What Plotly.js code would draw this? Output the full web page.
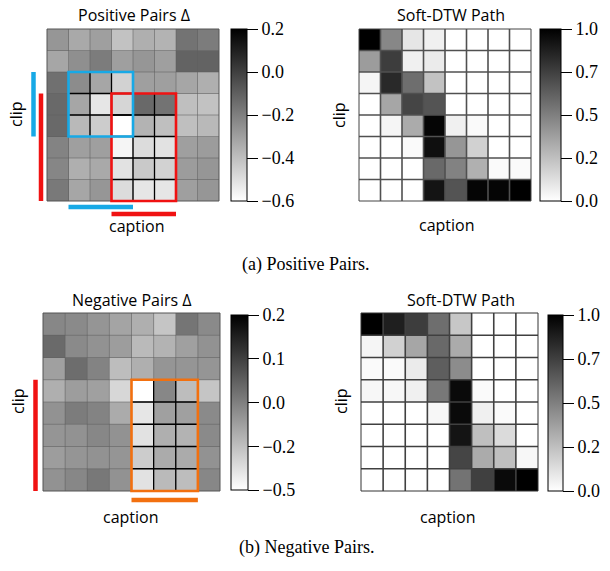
<!DOCTYPE html>
<html><head><meta charset="utf-8">
<script src="https://cdn.plot.ly/plotly-3.0.1.min.js"></script>
<style>html,body{margin:0;padding:0;background:#fff}#chart{width:610px;height:571px}</style>
</head><body><div id="chart"></div>
<script>
// ---------- data ----------
const captionIdx = [0,1,2,3,4,5,6,7];
const clipIdx = [0,1,2,3,4,5,6,7];

const posDelta = [
  [-0.27,-0.33,-0.30,-0.41,-0.35,-0.36,-0.16,-0.19],
  [-0.32,-0.25,-0.19,-0.30,-0.27,-0.30,-0.11,-0.11],
  [-0.15,-0.24,-0.32,-0.46,-0.30,-0.30,-0.32,-0.35],
  [-0.13,-0.32,-0.52,-0.47,-0.13,-0.16,-0.40,-0.41],
  [-0.13,-0.38,-0.44,-0.60,-0.36,-0.40,-0.40,-0.38],
  [-0.21,-0.30,-0.30,-0.57,-0.49,-0.51,-0.30,-0.29],
  [-0.22,-0.35,-0.33,-0.51,-0.43,-0.46,-0.29,-0.27],
  [-0.18,-0.32,-0.27,-0.49,-0.52,-0.52,-0.30,-0.27]
];
const posPath = [
  [1.00,0.47,0.10,0.06,0.00,0.00,0.00,0.00],
  [0.39,0.76,0.06,0.08,0.00,0.00,0.00,0.00],
  [0.04,0.84,0.57,0.24,0.00,0.00,0.00,0.00],
  [0.00,0.35,0.73,0.67,0.00,0.00,0.00,0.00],
  [0.00,0.04,0.33,0.98,0.06,0.02,0.00,0.00],
  [0.00,0.00,0.02,0.94,0.41,0.18,0.00,0.00],
  [0.00,0.00,0.00,0.59,0.49,0.31,0.02,0.02],
  [0.00,0.00,0.00,0.92,0.67,0.98,0.98,1.00]
];
const negDelta = [
  [-0.17,-0.18,-0.21,-0.25,-0.28,-0.34,-0.12,-0.18],
  [-0.09,-0.18,-0.20,-0.23,-0.31,-0.29,-0.24,-0.20],
  [-0.24,-0.10,-0.16,-0.32,-0.28,-0.21,-0.21,-0.21],
  [-0.28,-0.23,-0.24,-0.39,-0.50,-0.17,-0.32,-0.34],
  [-0.20,-0.14,-0.16,-0.27,-0.43,-0.24,-0.24,-0.18],
  [-0.21,-0.20,-0.17,-0.20,-0.42,-0.28,-0.29,-0.18],
  [-0.23,-0.21,-0.20,-0.21,-0.36,-0.27,-0.27,-0.20],
  [-0.20,-0.17,-0.13,-0.20,-0.42,-0.31,-0.32,-0.17]
];
const negPath = [
  [1.00,0.88,0.76,0.57,0.22,0.00,0.00,0.00],
  [0.04,0.18,0.35,0.59,0.33,0.00,0.00,0.00],
  [0.02,0.02,0.08,0.63,0.45,0.00,0.00,0.00],
  [0.03,0.03,0.06,0.53,0.96,0.02,0.00,0.00],
  [0.00,0.00,0.00,0.03,0.96,0.06,0.02,0.00],
  [0.00,0.00,0.00,0.00,0.92,0.25,0.14,0.00],
  [0.00,0.00,0.00,0.00,0.73,0.33,0.25,0.03],
  [0.00,0.00,0.00,0.00,0.55,0.75,0.96,1.00]
];

const posDeltaTickVals = [-0.6,-0.4,-0.2,0.0,0.2];
const posDeltaTickText = ['\u22120.6','\u22120.4','\u22120.2','0.0','0.2'];
const pathTickVals = [0,0.25,0.5,0.75,1.0];
const pathTickText = ['0.0','0.2','0.5','0.7','1.0'];
const negDeltaTickVals = [-0.5,-0.325,-0.15,0.025,0.2];
const negDeltaTickText = ['\u22120.5','\u22120.2','0.0','0.1','0.2'];

// highlighted regions (cell index ranges)
const posBlueBox = {c0:1,c1:3,r0:2,r1:4};
const posRedBox  = {c0:3,c1:5,r0:3,r1:7};
const negOrangeBox = {c0:4,c1:6,r0:3,r1:7};

// ---------- layout helpers ----------
const W=610,H=571,N=8;
const BLUE='#17A9E6', RED='#F01212', ORANGE='#F2700F';
const px = v => v/W, py = v => 1 - v/H;
const P = {
  tl:{x:[47,219], y:[29,201], ax:''},
  tr:{x:[359,531], y:[29,201], ax:'2'},
  bl:{x:[43,220], y:[313,491], ax:'3'},
  br:{x:[361,538], y:[313,491], ax:'4'}
};
const gray = [[0,'#ffffff'],[1,'#000000']];
const tickFont = {family:'Liberation Serif', size:18, color:'#000'};
function cbar(left, width, top, len, vals, text){
  return {x:px(left), xanchor:'left', xpad:0, ypad:0, y:py(top), yanchor:'top',
    len:len, lenmode:'pixels', thickness:width, thicknessmode:'pixels',
    outlinewidth:1, outlinecolor:'#000', ticks:'outside', ticklen:11, tickwidth:1,
    tickcolor:'#000', tickvals:vals, ticktext:text, tickfont:tickFont};
}
function hm(z, p, zmin, zmax, cb){
  return {type:'heatmap', z:z, x:captionIdx, y:clipIdx, xaxis:'x'+p.ax, yaxis:'y'+p.ax,
    colorscale:gray, zmin:zmin, zmax:zmax, colorbar:cb, hoverinfo:'skip'};
}
const data = [
  hm(posDelta, P.tl, -0.6, 0.2, cbar(231,16,29,172,posDeltaTickVals,posDeltaTickText)),
  hm(posPath,  P.tr, 0, 1,      cbar(540,21,29,172,pathTickVals,pathTickText)),
  hm(negDelta, P.bl, -0.5, 0.2, cbar(231,17,315,175,negDeltaTickVals,negDeltaTickText)),
  hm(negPath,  P.br, 0, 1,      cbar(548,15,315,176,pathTickVals,pathTickText))
];

const shapes = [];
function ln(p, x0,y0,x1,y1, color, width){
  shapes.push({type:'line', xref:'x'+p.ax+' domain', yref:'y'+p.ax+' domain',
    x0:x0,y0:y0,x1:x1,y1:y1, line:{color:color,width:width}, layer:'above'});
}
function grid(p, color, width, border){
  for(let i=1;i<N;i++){ ln(p,i/N,0,i/N,1,color,width); ln(p,0,i/N,1,i/N,color,width); }
  shapes.push({type:'rect', xref:'x'+p.ax+' domain', yref:'y'+p.ax+' domain',
    x0:0,y0:0,x1:1,y1:1, line:{color:border,width:1}, layer:'above'});
}
function innerLines(p, b){
  for(let c=b.c0+1;c<=b.c1;c++) ln(p,c/N,1-b.r0/N,c/N,1-(b.r1+1)/N,'#000',1.3);
  for(let r=b.r0+1;r<=b.r1;r++) ln(p,b.c0/N,1-r/N,(b.c1+1)/N,1-r/N,'#000',1.3);
}
function box(p, b, color){
  shapes.push({type:'rect', xref:'x'+p.ax+' domain', yref:'y'+p.ax+' domain',
    x0:b.c0/N, x1:(b.c1+1)/N, y0:1-b.r0/N, y1:1-(b.r1+1)/N,
    line:{color:color,width:2.6}, layer:'above'});
}
function vbar(p, b, offPx, color){
  const w = p.x[1]-p.x[0]; const x = -offPx/w;
  ln(p, x, 1-b.r0/N, x, 1-(b.r1+1)/N, color, 4.5);
}
function hbar(p, b, offPx, color){
  const h = p.y[1]-p.y[0]; const y = -offPx/h;
  ln(p, b.c0/N, y, (b.c1+1)/N, y, color, 4.5);
}
grid(P.tl,'rgba(95,95,95,0.55)',1,'#555');
grid(P.tr,'#505050',1.6,'#444');
grid(P.bl,'rgba(95,95,95,0.55)',1,'#555');
grid(P.br,'#404040',1.6,'#333');
innerLines(P.tl,posRedBox); innerLines(P.tl,posBlueBox); innerLines(P.bl,negOrangeBox);
box(P.tl,posRedBox,RED); box(P.tl,posBlueBox,BLUE); box(P.bl,negOrangeBox,ORANGE);
vbar(P.tl,posBlueBox,13.5,BLUE); vbar(P.tl,posRedBox,6,RED);
hbar(P.tl,posBlueBox,6,BLUE); hbar(P.tl,posRedBox,13,RED);
vbar(P.bl,negOrangeBox,7.5,RED); hbar(P.bl,negOrangeBox,9,ORANGE);

const sans = {family:'Open Sans', size:16, color:'#000'};
const serif = {family:'Liberation Serif', size:18, color:'#000'};
function ann(x,y,text,font,angle){
  return {xref:'paper',yref:'paper',x:px(x),y:py(y),xanchor:'center',yanchor:'middle',
    text:text,showarrow:false,font:font,textangle:angle||0};
}
const annotations = [
  ann(134,15,'Positive Pairs \u0394',sans), ann(451,15,'Soft-DTW Path',sans),
  ann(132,300,'Negative Pairs \u0394',sans), ann(461,300,'Soft-DTW Path',sans),
  ann(16,114,'clip',sans,-90), ann(339,115,'clip',sans,-90),
  ann(18,401,'clip',sans,-90), ann(341,401,'clip',sans,-90),
  ann(137,226,'caption',sans), ann(447,225,'caption',sans),
  ann(131,517,'caption',sans), ann(448,517,'caption',sans),
  ann(306,264,'(a) Positive Pairs.',serif), ann(306,547,'(b) Negative Pairs.',serif)
];

const layout = {width:W, height:H, margin:{l:0,r:0,t:0,b:0},
  paper_bgcolor:'#fff', plot_bgcolor:'#fff', showlegend:false,
  shapes:shapes, annotations:annotations};
for(const k of ['tl','tr','bl','br']){
  const p=P[k];
  layout['xaxis'+p.ax] = {domain:[px(p.x[0]),px(p.x[1])], range:[-0.5,7.5], visible:false, fixedrange:true, anchor:'y'+p.ax};
  layout['yaxis'+p.ax] = {domain:[py(p.y[1]),py(p.y[0])], range:[7.5,-0.5], visible:false, fixedrange:true, anchor:'x'+p.ax};
}
Plotly.newPlot('chart', data, layout, {staticPlot:true, displayModeBar:false});
</script></body></html>
